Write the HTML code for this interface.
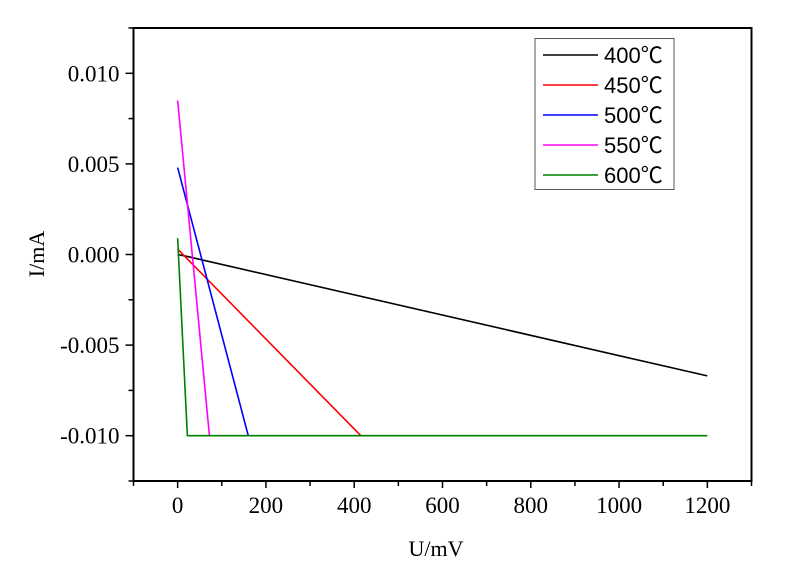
<!DOCTYPE html>
<html><head><meta charset="utf-8"><style>
body{margin:0;background:#fff}
svg{display:block}
.tk{font-family:"Liberation Serif",serif;font-size:23px;fill:#000}
.lg{font-family:"Liberation Sans","Noto Sans CJK SC",sans-serif;font-size:22px;fill:#000}
</style></head><body>
<svg id="c" width="800" height="567" xmlns="http://www.w3.org/2000/svg"></svg>
<script>
const xTicks=[0,200,400,600,800,1000,1200];
const yTicks=[0.010,0.005,0.000,-0.005,-0.010];
const yTickLabels=["0.010","0.005","0.000","-0.005","-0.010"];
const seriesNames=["400℃","450℃","500℃","550℃","600℃"];
const seriesColors=["#000000","#ff0000","#0000ff","#ff00ff","#008000"];
const s400U=[0,20,1200];const s400I=[0.0000,-0.0001,-0.0067];
const s450U=[0,415];const s450I=[0.0003,-0.0100];
const s500U=[0,160];const s500I=[0.0048,-0.0100];
const s550U=[0,72];const s550I=[0.0085,-0.0100];
const s600U=[0,22,1200];const s600I=[0.0009,-0.0100,-0.0100];
const seriesU=[s400U,s450U,s500U,s550U,s600U];
const seriesI=[s400I,s450I,s500I,s550I,s600I];

const L=133.5,R=751.5,T=28,B=481;
const xMin=-100,xMax=1300,yMin=-0.0125,yMax=0.0125;
const X=v=>L+(v-xMin)/(xMax-xMin)*(R-L);
const Y=v=>B-(v-yMin)/(yMax-yMin)*(B-T);
const svg=document.getElementById('c');const NS="http://www.w3.org/2000/svg";
function mk(t,a,txt){const e=document.createElementNS(NS,t);for(const k in a)e.setAttribute(k,a[k]);if(txt!==undefined)e.textContent=txt;svg.appendChild(e);return e;}
seriesU.forEach((us,i)=>{
 const p=mk('polyline',{points:us.map((u,j)=>X(u)+','+Y(seriesI[i][j])).join(' '),fill:'none',stroke:seriesColors[i],'stroke-width':1.6});
 
 
});
const f=mk('rect',{x:L,y:T,width:R-L,height:B-T,fill:'none',stroke:'#000','stroke-width':2});


for(let v=-100;v<=1300;v+=100){const maj=v%200===0;mk('line',{x1:X(v),x2:X(v),y1:B,y2:B+(maj?7:5),stroke:'#000','stroke-width':1.5});}
xTicks.forEach(v=>{const t=mk('text',{x:X(v),y:B+32,'text-anchor':'middle',class:'tk'},String(v));
 
 });
for(let v=-0.0125;v<=0.01251;v+=0.0025){const maj=Math.abs(Math.round(v*10000)%50)===0;mk('line',{x1:L,x2:L-(maj?8:5),y1:Y(v),y2:Y(v),stroke:'#000','stroke-width':1.5});}
yTicks.forEach((v,i)=>{const t=mk('text',{x:L-14,y:Y(v)+8,'text-anchor':'end',class:'tk'},yTickLabels[i]);
 
 });
const xt=mk('text',{x:436,y:556,'text-anchor':'middle',class:'tk',style:'font-size:22px'},'U/mV');


const yt=mk('text',{x:0,y:0,'text-anchor':'middle',class:'tk',style:'font-size:22px',transform:'translate(44,254) rotate(-90)'},'I/mA');


const lb=mk('rect',{x:535,y:38.5,width:139,height:151,fill:'#fff',stroke:'#555','stroke-width':1});


seriesNames.forEach((n,i)=>{const y=55+i*30;
 mk('line',{x1:543,x2:598,y1:y,y2:y,stroke:seriesColors[i],'stroke-width':1.6});
 const t=mk('text',{x:604,y:y+8,class:'lg'},n);
 
 });
</script>
</body></html>
